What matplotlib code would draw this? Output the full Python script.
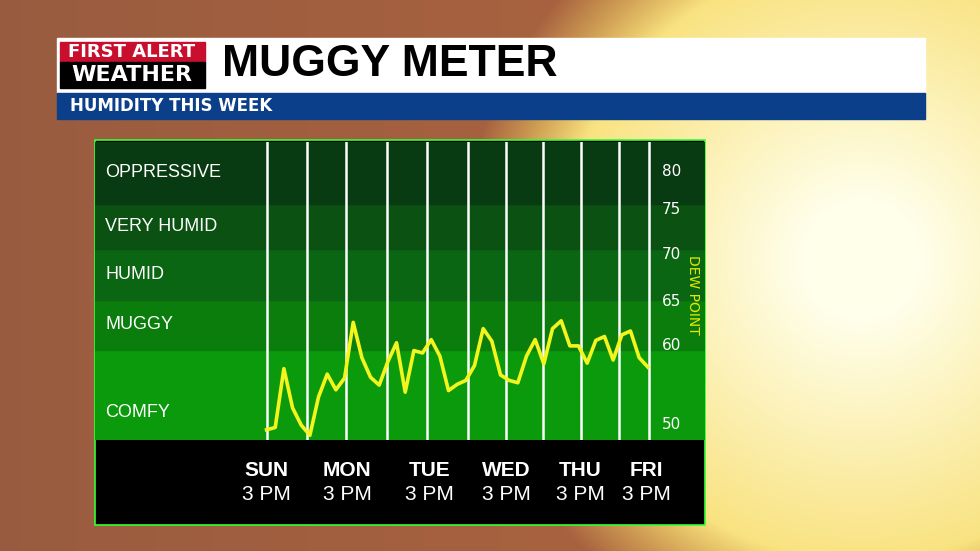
import numpy as np
import matplotlib
matplotlib.use("Agg")
import matplotlib.pyplot as plt
from matplotlib.patches import Rectangle

dew_point = [49.3, 49.6, 57.1, 52.1, 49.9, 48.6, 53.5, 56.4, 54.4, 55.9, 63.0, 58.5, 56.0, 55.0, 58.0,
             60.4, 54.1, 59.4, 59.1, 60.8, 58.7, 54.3, 55.1, 55.6, 57.5, 62.2, 60.6, 56.3, 55.6, 55.3,
             58.7, 60.8, 57.7, 62.2, 63.2, 60.0, 60.0, 57.8, 60.7, 61.2, 58.2, 61.4, 61.9, 58.5, 57.3]
day_names = ["SUN", "MON", "TUE", "WED", "THU", "FRI"]
day_time = "3 PM"
day_pos = [0, 9.3, 18.8, 27.7, 36.2, 43.8]
grid_pos = [0, 4.7, 9.2, 13.9, 18.5, 23.2, 27.6, 31.9, 36.3, 40.7, 44.1]
band_names = ["COMFY", "MUGGY", "HUMID", "VERY HUMID", "OPPRESSIVE"]
band_edges = [48.0, 59.5, 65.9, 72.3, 78.1, 86.0]
band_colors = ["#0a9a0c", "#0b7d0d", "#0a6612", "#0a5112", "#093b12"]
tick_vals = [50, 60, 65.6, 71.7, 77.4, 82.3]
tick_labels = ["50", "60", "65", "70", "75", "80"]

W, H = 980, 551
fig = plt.figure(figsize=(9.8, 5.51), dpi=100)

# background
bg = fig.add_axes([0, 0, 1, 1])
yy, xx = np.mgrid[0:H, 0:W]
lin = np.clip(xx / W, 0, 1)[..., None]
base = np.array([0.60, 0.36, 0.25]) * (1 - lin) + np.array([0.70, 0.40, 0.25]) * lin
d = np.sqrt((xx - 860) ** 2 + (yy - 260) ** 2)
halo = np.clip(1 - (d - 300) / 100, 0, 1)[..., None]
sunc = np.clip(1 - (d - 60) / 300, 0, 1)[..., None]
sun = np.array([0.97, 0.86, 0.40]) * (1 - sunc) + np.array([1.0, 1.0, 0.92]) * sunc
img = base * (1 - halo) + sun * halo
bg.imshow(img, extent=[0, W, H, 0], aspect="auto")
bg.set_xlim(0, W); bg.set_ylim(H, 0); bg.axis("off")

# header
bg.add_patch(Rectangle((57, 38), 868, 54, color="white"))
bg.add_patch(Rectangle((57, 93), 868, 26, color="#0b3f8a"))
bg.add_patch(Rectangle((60, 42), 145, 20, color="#c8102e"))
bg.add_patch(Rectangle((60, 62), 145, 26, color="black"))
bg.text(132, 52, "FIRST ALERT", color="white", fontsize=13, fontweight="bold", ha="center", va="center")
bg.text(132, 75, "WEATHER", color="white", fontsize=16, fontweight="bold", ha="center", va="center")
bg.text(222, 65, "MUGGY METER", color="black", fontsize=32, fontweight="heavy",
        family="Liberation Sans", ha="left", va="center")
bg.text(70, 106, "HUMIDITY THIS WEEK", color="white", fontsize=12, fontweight="bold", ha="left", va="center")

# panel frame (black bottom)
bg.add_patch(Rectangle((95, 140), 610, 385, facecolor="black", edgecolor="#33ff33", lw=1.2))

# chart axes
L, R, T, B = 95, 705, 142, 440
ax = fig.add_axes([L / W, 1 - B / H, (R - L) / W, (B - T) / H])
x0, x1 = -19.8, 50.6
ax.set_xlim(x0, x1)
ax.set_ylim(band_edges[0], band_edges[-1])
for i in range(len(band_names)):
    ax.axhspan(band_edges[i], band_edges[i + 1], color=band_colors[i], zorder=0)
    ymid = (band_edges[i] + band_edges[i + 1]) / 2 if i else 51.5
    ax.text(x0 + 1.2, ymid, band_names[i], color="white", fontsize=13, va="center", ha="left",
            family="Liberation Sans")
for g in grid_pos:
    ax.axvline(g, color="white", lw=1.8, zorder=1)
ax.plot(np.arange(len(dew_point)), dew_point, color="#f5f51e", lw=2.6, zorder=3)
for v, s in zip(tick_vals, tick_labels):
    ax.text(45.6, v, s, color="white", fontsize=11, va="center", ha="left")
ax.text(49.2, 66.5, "DEW POINT", color="#e8e800", fontsize=10, rotation=-90, ha="center", va="center")
ax.set_xticks([]); ax.set_yticks([])
for sp in ax.spines.values():
    sp.set_visible(False)

# day labels
for p, n in zip(day_pos, day_names):
    px = L + (p - x0) / (x1 - x0) * (R - L)
    bg.text(px, 470, n, color="white", fontsize=15, fontweight="bold", ha="center", va="center",
            family="Liberation Sans")
    bg.text(px, 494, day_time, color="white", fontsize=15, ha="center", va="center",
            family="Liberation Sans")

fig.savefig("out.png", dpi=100)
